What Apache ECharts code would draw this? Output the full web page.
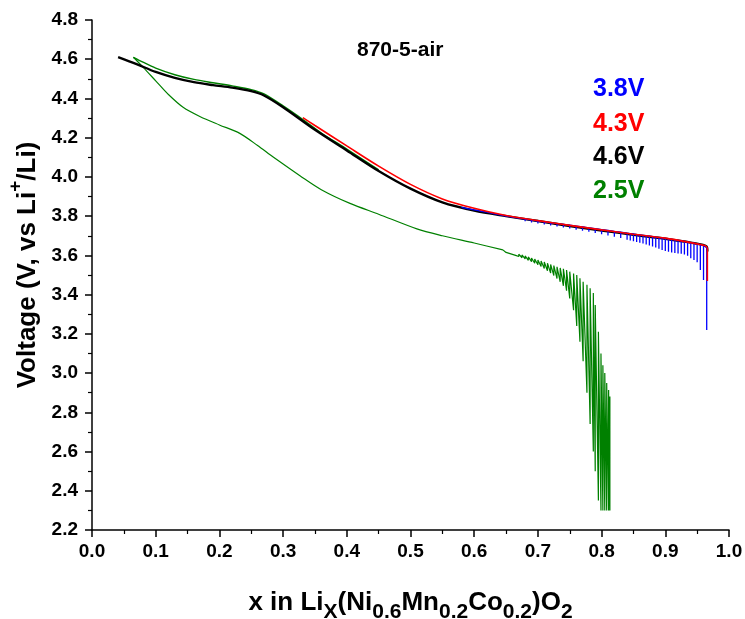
<!DOCTYPE html>
<html>
<head>
<meta charset="utf-8">
<script src="https://cdn.jsdelivr.net/npm/echarts@6/dist/echarts.min.js"></script>
<style>
html,body{margin:0;padding:0;background:#fff;}
#chart{width:745px;height:619px;}
</style>
</head>
<body>
<div id="chart"></div>
<script>
// ---- data ----
const chartTitle = '870-5-air';
const legendNames = ['3.8V', '4.3V', '4.6V', '2.5V'];

// black (4.6V)
const blackX = [0.966,0.965,0.94,0.90,0.85,0.80,0.75,0.70,0.65,0.60,0.55,0.50,0.45,0.40,0.35,0.30,0.27,0.25,0.22,0.19,0.16,0.13,0.10,0.07,0.041];
const blackV = [3.620,3.645,3.665,3.685,3.705,3.727,3.750,3.775,3.800,3.828,3.870,3.940,4.030,4.135,4.240,4.355,4.415,4.437,4.455,4.468,4.483,4.505,4.535,4.575,4.611];

// red (4.3V)
const redX = [0.331,0.35,0.40,0.45,0.50,0.55,0.60,0.65,0.70,0.75,0.80,0.85,0.90,0.94,0.962,0.966];
const redV = [4.302,4.262,4.158,4.055,3.962,3.888,3.840,3.803,3.777,3.753,3.730,3.708,3.688,3.665,3.650,3.640];
const redEndV = 3.47;

// blue (3.8V)
const blueX = [0.58,0.60,0.61];
const blueV = [3.845,3.832,3.826];
const blueSpikeX = [0.62,0.63,0.64,0.65,0.66,0.67,0.68,0.69,0.70,0.71,0.72,0.73,0.74,0.75,0.76,0.77,0.78,0.79,0.80,0.81,0.82,0.83,0.84,0.845,0.85,0.855,0.86,0.865,0.87,0.875,0.88,0.885,0.89,0.895,0.90,0.905,0.91,0.915,0.92,0.925,0.93,0.935,0.94,0.945,0.95,0.955,0.96,0.965];
const blueSpikeTop = [3.820,3.813,3.806,3.800,3.795,3.790,3.785,3.780,3.775,3.771,3.766,3.762,3.758,3.754,3.749,3.745,3.740,3.736,3.731,3.727,3.722,3.718,3.713,3.711,3.709,3.706,3.704,3.702,3.700,3.698,3.696,3.693,3.691,3.689,3.687,3.684,3.682,3.679,3.677,3.674,3.671,3.668,3.665,3.662,3.659,3.655,3.650,3.640];
const blueSpikeBottom = [3.815,3.807,3.799,3.792,3.786,3.780,3.774,3.768,3.763,3.758,3.752,3.747,3.742,3.737,3.731,3.726,3.720,3.714,3.708,3.702,3.695,3.688,3.680,3.676,3.672,3.668,3.664,3.660,3.655,3.650,3.645,3.640,3.634,3.628,3.622,3.618,3.615,3.612,3.610,3.608,3.604,3.598,3.585,3.576,3.565,3.525,3.474,3.220];

// green (2.5V): charge branch, discharge branch, then pulses
const greenChargeX = [0.45,0.40,0.36,0.33,0.30,0.27,0.25,0.22,0.19,0.16,0.13,0.10,0.08,0.065];
const greenChargeV = [4.036,4.142,4.224,4.295,4.362,4.423,4.445,4.464,4.480,4.497,4.521,4.555,4.585,4.610];
const greenDisX = [0.065,0.08,0.10,0.12,0.143,0.17,0.20,0.232,0.26,0.285,0.327,0.36,0.405,0.45,0.51,0.55,0.60,0.645];
const greenDisV = [4.610,4.560,4.490,4.420,4.355,4.307,4.265,4.222,4.160,4.100,4.005,3.935,3.865,3.810,3.735,3.700,3.663,3.628];
const greenSpikeX = [0.650,0.655,0.660,0.665,0.670,0.675,0.680,0.685,0.690,0.695,0.700,0.705,0.710,0.715,0.720,0.725,0.730,0.735,0.740,0.745,0.750,0.756,0.761,0.766,0.771,0.777,0.782,0.787,0.790,0.795,0.799,0.802,0.805,0.808,0.811,0.813];
const greenSpikeTop = [3.622,3.618,3.614,3.610,3.606,3.602,3.597,3.592,3.587,3.582,3.577,3.572,3.566,3.560,3.554,3.548,3.542,3.536,3.532,3.525,3.517,3.508,3.500,3.483,3.466,3.450,3.432,3.408,3.347,3.211,3.100,3.040,3.000,2.950,2.914,2.880];
const greenSpikeBottom = [3.615,3.610,3.605,3.600,3.594,3.588,3.582,3.575,3.568,3.560,3.552,3.543,3.533,3.522,3.510,3.497,3.482,3.465,3.445,3.420,3.380,3.320,3.240,3.160,3.060,2.900,2.740,2.600,2.500,2.350,2.300,2.300,2.300,2.300,2.300,2.300];

// ---- build series data ----
function pairs(xs, vs) { return xs.map((x, i) => [x, vs[i]]); }
function sawtooth(xs, tops, bottoms) {
  const out = [];
  xs.forEach((x, i) => { out.push([x, bottoms[i]]); out.push([x, tops[i]]); });
  return out;
}
function comb(xs, tops, bottoms) {
  const out = [];
  xs.forEach((x, i) => { out.push([x, tops[i]]); out.push([x, bottoms[i]]); out.push([x, tops[i]]); });
  return out;
}
const blackData = pairs(blackX, blackV);
const redData = pairs(redX, redV);
const redEndData = [[redX[redX.length - 1], redV[redV.length - 1]], [redX[redX.length - 1], redEndV]];
const blueSmooth = pairs(blueX, blueV).concat([[blueSpikeX[0], blueSpikeTop[0]]]);
const blueComb = comb(blueSpikeX, blueSpikeTop, blueSpikeBottom);
const greenCharge = pairs(greenChargeX, greenChargeV);
const greenDis = pairs(greenDisX, greenDisV);
const greenPulse = [greenDis[greenDis.length - 1]].concat(sawtooth(greenSpikeX, greenSpikeTop, greenSpikeBottom));

const FONT = '"Liberation Sans", Arial, sans-serif';
const chart = echarts.init(document.getElementById('chart'));

function lineSeries(name, data, color, width, z, smooth) {
  return { name, type: 'line', data, showSymbol: false, symbol: 'none', smooth: smooth || false,
    lineStyle: { color, width }, itemStyle: { color }, z, animation: false };
}

const legendColors = ['#0000ff', '#ff0000', '#000000', '#008000'];
const legendY = [89, 124, 157, 191];

chart.setOption({
  animation: false,
  backgroundColor: '#ffffff',
  grid: { left: 92, right: 16, top: 20, bottom: 89, containLabel: false, outerBoundsMode: 'none' },
  xAxis: {
    type: 'value', min: 0, max: 1, interval: 0.1,
    name: '{m|x in Li}{s|X}{m|(Ni}{s|0.6}{m|Mn}{s|0.2}{m|Co}{s|0.2}{m|)O}{s|2}',
    nameLocation: 'middle', nameGap: 57,
    nameTextStyle: {
      rich: {
        m: { fontFamily: FONT, fontWeight: 'bold', fontSize: 26, color: '#000', lineHeight: 36, verticalAlign: 'top', padding: [3,0,0,0] },
        s: { fontFamily: FONT, fontWeight: 'bold', fontSize: 21, color: '#000', lineHeight: 36, verticalAlign: 'bottom' }
      }
    },
    axisLine: { show: true, onZero: false, lineStyle: { color: '#000', width: 1.5 } },
    axisTick: { show: true, inside: false, length: 7, lineStyle: { color: '#000', width: 1.5 } },
    minorTick: { show: true, splitNumber: 2, length: 4, lineStyle: { color: '#000', width: 1.2 } },
    splitLine: { show: false },
    axisLabel: { fontFamily: FONT, fontWeight: 'bold', fontSize: 19, color: '#000', margin: 12,
      formatter: v => v.toFixed(1) }
  },
  yAxis: {
    type: 'value', min: 2.2, max: 4.8, interval: 0.2,
    name: '{m|Voltage (V, vs Li}{p|+}{m|/Li)}',
    nameLocation: 'middle', nameRotate: 90, nameGap: 50,
    nameTextStyle: {
      padding: [0, 0, 0, 20],
      rich: {
        m: { fontFamily: FONT, fontWeight: 'bold', fontSize: 26, color: '#000', lineHeight: 34, verticalAlign: 'bottom' },
        p: { fontFamily: FONT, fontWeight: 'bold', fontSize: 19, color: '#000', lineHeight: 34, verticalAlign: 'top' }
      }
    },
    axisLine: { show: true, lineStyle: { color: '#000', width: 1.5 } },
    axisTick: { show: true, inside: false, length: 7, lineStyle: { color: '#000', width: 1.5 } },
    minorTick: { show: true, splitNumber: 2, length: 4, lineStyle: { color: '#000', width: 1.2 } },
    splitLine: { show: false },
    axisLabel: { fontFamily: FONT, fontWeight: 'bold', fontSize: 19, color: '#000', margin: 14,
      formatter: v => v.toFixed(1) }
  },
  graphic: [
    { type: 'text', left: 357, top: 40, silent: true,
      style: { text: chartTitle, font: 'bold 21px ' + FONT, fill: '#000' } }
  ].concat(legendNames.map((n, i) => ({
    type: 'text', left: 593, top: legendY[i] - 12, silent: true,
    style: { text: n, font: 'bold 25px ' + FONT, fill: legendColors[i] }
  }))),
  series: [
    lineSeries(legendNames[3], greenDis, '#008000', 1.2, 2, 0.3),
    lineSeries(legendNames[3], greenPulse, '#008000', 1.2, 2),
    lineSeries(legendNames[3], greenCharge, '#008000', 1.4, 3, 0.3),
    lineSeries(legendNames[2], blackData, '#000000', 2.4, 4, 0.3),
    lineSeries(legendNames[0], blueSmooth, '#0000ff', 1.3, 5, 0.3),
    lineSeries(legendNames[0], blueComb, '#0000ff', 1.3, 5),
    lineSeries(legendNames[1], redData, '#ff0000', 1.6, 6, 0.3),
    lineSeries(legendNames[1], redEndData, '#ff0000', 1.6, 6)
  ]
});
</script>
</body>
</html>
